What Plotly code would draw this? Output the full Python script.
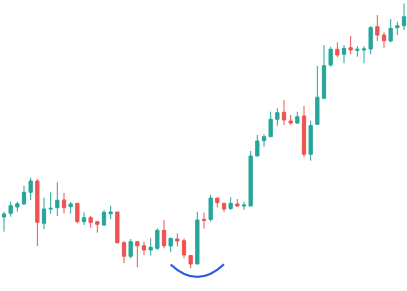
import plotly.graph_objects as go

idx = list(range(61))
open_ = [83.0, 86.7, 93.0, 96.0, 107.7, 119.0, 76.7, 91.0, 92.3, 100.0,
         93.3, 96.7, 78.3, 82.3, 78.3, 75.0, 86.3, 88.0, 57.3, 43.7,
         58.3, 54.3, 50.0, 51.7, 69.7, 54.0, 61.0, 59.3, 44.5, 36.0,
         80.7, 80.5, 102.0, 96.7, 91.5, 96.0, 94.0, 94.0, 144.0, 159.3,
         163.3, 180.7, 187.7, 179.0, 177.0, 184.0, 145.7, 175.7, 201.7, 235.0,
         250.7, 245.7, 252.3, 249.7, 250.0, 251.0, 273.3, 265.0, 259.0, 272.3,
         274.3]
close = [86.0, 94.3, 96.3, 107.7, 119.0, 77.7, 91.0, 91.7, 99.7, 92.3,
         96.0, 78.3, 82.3, 77.7, 75.7, 87.7, 88.0, 57.3, 43.7, 58.3,
         54.2, 50.0, 52.7, 69.7, 54.3, 61.7, 59.0, 45.0, 36.0, 80.0,
         79.7, 102.0, 97.3, 91.0, 96.7, 94.0, 95.0, 144.0, 159.0, 163.3,
         180.7, 187.3, 180.0, 177.0, 183.3, 145.7, 174.5, 202.7, 234.3, 250.7,
         245.0, 251.7, 250.0, 250.7, 251.0, 272.3, 265.0, 259.3, 271.7, 274.3,
         283.3]
high = [88.3, 98.3, 98.3, 114.3, 122.3, 121.0, 102.3, 107.7, 117.7, 107.0,
        98.0, 96.7, 87.7, 84.0, 79.0, 90.0, 94.3, 88.0, 59.0, 61.0,
        58.3, 58.3, 61.7, 71.7, 80.0, 61.7, 66.7, 61.7, 45.0, 88.3,
        87.2, 105.0, 102.0, 96.7, 102.7, 101.0, 98.3, 149.0, 165.0, 165.7,
        188.3, 191.7, 200.0, 185.0, 188.3, 194.0, 179.3, 234.0, 255.0, 253.3,
        257.7, 255.0, 264.0, 254.0, 254.0, 274.0, 285.0, 267.7, 281.0, 278.3,
        296.7]
low = [68.3, 83.3, 88.3, 95.7, 100.0, 54.0, 71.0, 86.0, 84.0, 86.7,
       86.3, 76.7, 75.0, 72.3, 67.3, 74.3, 81.0, 56.5, 36.7, 41.5,
       32.7, 45.0, 44.3, 50.0, 51.7, 47.7, 53.3, 41.7, 31.7, 36.0,
       71.2, 78.5, 92.5, 87.7, 90.0, 93.3, 90.0, 94.0, 144.0, 153.3,
       163.3, 174.3, 175.0, 175.0, 176.0, 143.0, 139.3, 175.0, 201.0, 233.3,
       242.7, 236.7, 245.7, 243.3, 236.7, 245.7, 259.0, 251.7, 257.7, 265.0,
       270.0]

fig = go.Figure()
fig.add_trace(go.Candlestick(
    x=idx, open=open_, high=high, low=low, close=close,
    increasing=dict(line=dict(color="#26a69a", width=1), fillcolor="#26a69a"),
    decreasing=dict(line=dict(color="#ef5350", width=1), fillcolor="#ef5350"),
    whiskerwidth=0,
    showlegend=False,
))

# blue arc under the bottom
fig.add_shape(
    type="path",
    path="M 25,35.5 Q 29,10.5 33,35.7",
    xref="x", yref="y",
    line=dict(color="#2a5ce6", width=2.2),
)

fig.update_layout(
    width=407, height=291,
    margin=dict(l=0, r=0, t=0, b=0),
    paper_bgcolor="white", plot_bgcolor="white",
    xaxis=dict(range=[-0.6, 60.45], visible=False, rangeslider=dict(visible=False)),
    yaxis=dict(range=[9, 300], visible=False),
)
fig.write_html("out.html")
